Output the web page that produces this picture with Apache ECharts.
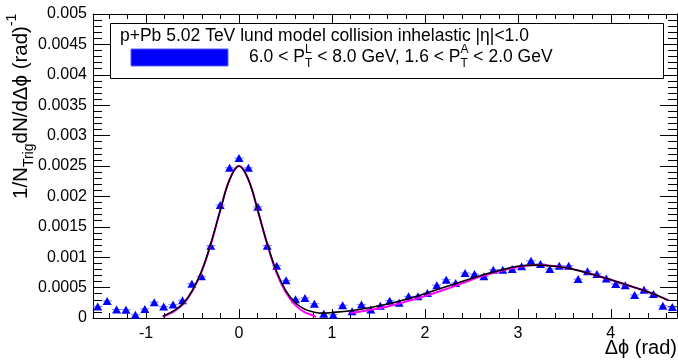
<!DOCTYPE html>
<html>
<head>
<meta charset="utf-8">
<script src="https://cdn.jsdelivr.net/npm/echarts@6/dist/echarts.min.js"></script>
<style>
  html, body { margin: 0; padding: 0; background: #ffffff; }
  #chart { width: 678px; height: 362px; }
</style>
</head>
<body>
<div id="chart"></div>
<script>
// Δφ bin centres (62 bins over [-π/2, 3π/2])
const dphi = [
  -1.5201, -1.4188, -1.3175, -1.2161, -1.1148, -1.0134, -0.9121, -0.8107, -0.7094, -0.6081,
  -0.5067, -0.4054, -0.3040, -0.2027, -0.1013, 0.0000, 0.1013, 0.2027, 0.3040, 0.4054,
  0.5067, 0.6081, 0.7094, 0.8107, 0.9121, 1.0134, 1.1148, 1.2161, 1.3175, 1.4188,
  1.5201, 1.6215, 1.7228, 1.8242, 1.9255, 2.0268, 2.1282, 2.2295, 2.3309, 2.4322,
  2.5335, 2.6349, 2.7362, 2.8376, 2.9389, 3.0403, 3.1416, 3.2429, 3.3443, 3.4456,
  3.5470, 3.6483, 3.7496, 3.8510, 3.9523, 4.0537, 4.1550, 4.2563, 4.3577, 4.4590,
  4.5604, 4.6617
];
// per-trigger pair yield, 1/N_trig dN/dΔφ
const pairYield = [
  0.00019, 0.00028, 0.00014, 0.000137, 0.000055, 0.00015, 0.00026, 0.00019, 0.00022, 0.00029,
  0.000565, 0.000685, 0.00119, 0.00186, 0.00247, 0.00263, 0.00247, 0.00183, 0.00119, 0.00086,
  0.00062, 0.00031, 0.00033, 0.000235, 0.00007, 0.000055, 0.00021, 0.00011, 0.00022, 0.00014,
  0.0002, 0.000285, 0.00025, 0.000356, 0.000356, 0.00041, 0.00054, 0.00063, 0.000576, 0.00074,
  0.000724, 0.000685, 0.000795, 0.000795, 0.000806, 0.00085, 0.00094, 0.00089, 0.000806, 0.00086,
  0.00086, 0.00064, 0.00077, 0.000724, 0.00065, 0.00056, 0.00054, 0.00038, 0.000466, 0.000395,
  0.0002, 0.00018
];
// full fit (near + away side)
const fitX = [-0.82, -0.75, -0.7, -0.6, -0.5, -0.4, -0.3, -0.2, -0.1, 0, 0.1, 0.2, 0.3, 0.4, 0.5, 0.6, 0.7, 0.8, 0.9,
  1.0, 1.2, 1.4, 1.6, 1.8, 2.0, 2.2, 2.4, 2.6, 2.8, 3.0, 3.2, 3.4, 3.6, 3.8, 4.0, 4.2, 4.4, 4.62];
const fitY = [0.00003, 0.00008, 0.00012, 0.00024, 0.00046, 0.00078, 0.00124, 0.00178, 0.00228, 0.0025,
  0.00228, 0.00178, 0.00124, 0.00078, 0.00046, 0.00026, 0.00015, 0.0001, 0.00008,
  0.00009, 0.00012, 0.00017, 0.00023, 0.00031, 0.0004, 0.0005, 0.0006, 0.0007, 0.00078, 0.00085,
  0.00087, 0.00085, 0.0008, 0.00072, 0.00063, 0.00053, 0.00043, 0.00029];
// near-side component
const nearX = [-0.82, -0.75, -0.7, -0.6, -0.5, -0.4, -0.3, -0.2, -0.1, 0, 0.1, 0.2, 0.3, 0.4, 0.5, 0.6, 0.7, 0.8, 0.83];
const nearY = [0.00002, 0.00007, 0.00011, 0.00023, 0.00045, 0.00077, 0.00123, 0.00178, 0.00228, 0.0025,
  0.00228, 0.00178, 0.00123, 0.00076, 0.00043, 0.00022, 0.0001, 0.00004, 0.00002];
// away-side component
const awayX = [1.2, 1.4, 1.6, 1.8, 2.0, 2.2, 2.4, 2.6, 2.8, 3.0, 3.2, 3.4, 3.6, 3.8, 4.0, 4.2, 4.4, 4.62];
const awayY = [0.00008, 0.00013, 0.00019, 0.00027, 0.00036, 0.00046, 0.00057, 0.00068, 0.00077, 0.00084,
  0.00087, 0.00085, 0.0008, 0.00072, 0.00063, 0.00053, 0.00043, 0.00029];

// axis ticks and labels
const xMajor = [-1, 0, 1, 2, 3, 4];
const xLabels = ['-1', '0', '1', '2', '3', '4'];
const xMinor = [-1.4, -1.2, -0.8, -0.6, -0.4, -0.2, 0.2, 0.4, 0.6, 0.8, 1.2, 1.4, 1.6, 1.8,
  2.2, 2.4, 2.6, 2.8, 3.2, 3.4, 3.6, 3.8, 4.2, 4.4, 4.6];
const yLabels = ['0', '0.0005', '0.001', '0.0015', '0.002', '0.0025', '0.003', '0.0035', '0.004', '0.0045', '0.005'];

const FONT = '"Liberation Sans", Arial, Helvetica, sans-serif';
const halfBin = Math.PI / 62;

const measure = document.createElement('canvas').getContext('2d');
function textWidth(str, size) {
  measure.font = size + 'px ' + FONT;
  return measure.measureText(str).width;
}
function txt(str, x, y, size, align) {
  return {
    type: 'text', x: x, y: y, silent: true, z: 11,
    style: { text: str, fontSize: size, fontFamily: FONT, fill: '#000', align: align || 'left', verticalAlign: 'middle' }
  };
}
// lay out a line with stacked super/subscripts
function layoutLine(parts, x0, y, size, small, supDy, subDy) {
  const out = [];
  let x = x0;
  parts.forEach(p => {
    if (typeof p === 'string') {
      out.push(txt(p, x, y, size));
      x += textWidth(p, size);
    } else {
      let w = 0;
      if (p.sup) { out.push(txt(p.sup, x, y + supDy, small)); w = Math.max(w, textWidth(p.sup, small)); }
      if (p.sub) { out.push(txt(p.sub, x, y + subDy, small)); w = Math.max(w, textWidth(p.sub, small)); }
      x += w;
    }
  });
  return out;
}

const legendLine2 = layoutLine(
  ['6.0 < P', { sup: 'L', sub: 'T' }, ' < 8.0 GeV, 1.6 < P', { sup: 'A', sub: 'T' }, ' < 2.0 GeV'],
  249, 57, 17.5, 12, -7, 7);

const yTitleParts = layoutLine(
  ['1/N', { sub: 'Trig' }, 'dN/d\u0394\u03d5 (rad)', { sup: '-1' }],
  0, 0, 20.5, 14, -9, 8);

const chart = echarts.init(document.getElementById('chart'), null, { renderer: 'canvas' });

const axisLineStyle = { color: '#000', width: 1 };

function xAxisDef(position, ticks, len, withLine, withLabels) {
  return {
    type: 'value', position: position,
    min: -Math.PI / 2, max: 3 * Math.PI / 2,
    axisLine: { show: withLine, onZero: false, lineStyle: axisLineStyle },
    axisTick: { show: true, inside: true, length: len, customValues: ticks, lineStyle: axisLineStyle },
    axisLabel: withLabels ? {
      show: true, customValues: xMajor, margin: 8, fontSize: 16, fontFamily: FONT, color: '#000',
      formatter: v => xLabels[xMajor.findIndex(m => Math.abs(m - v) < 1e-6)]
    } : { show: false },
    splitLine: { show: false }
  };
}
function yAxisDef(position, withLabels) {
  return {
    type: 'value', position: position, min: 0, max: 0.005, interval: 0.0005,
    axisLine: { show: true, onZero: false, lineStyle: axisLineStyle },
    axisTick: { show: true, inside: true, length: 17, lineStyle: axisLineStyle },
    minorTick: { show: true, splitNumber: 5, length: 9, lineStyle: axisLineStyle },
    axisLabel: withLabels ? {
      show: true, margin: 6, fontSize: 16, fontFamily: FONT, color: '#000',
      formatter: v => yLabels[Math.round(v / 0.0005)]
    } : { show: false },
    splitLine: { show: false }, minorSplitLine: { show: false }
  };
}

chart.setOption({
  animation: false,
  backgroundColor: '#ffffff',
  grid: { left: 93, right: 1, top: 14, bottom: 44, containLabel: false },
  xAxis: [
    xAxisDef('bottom', xMajor, 9, true, true),
    xAxisDef('bottom', xMinor, 5, false, false),
    xAxisDef('top', xMajor, 9, true, false),
    xAxisDef('top', xMinor, 5, false, false)
  ],
  yAxis: [yAxisDef('left', true), yAxisDef('right', false)],
  series: [
    {
      type: 'custom', xAxisIndex: 0, yAxisIndex: 0, silent: true, z: 2,
      data: dphi.map((x, i) => [x, pairYield[i]]),
      renderItem: (params, api) => {
        const x = api.value(0), y = api.value(1);
        const a = api.coord([x - halfBin, y]);
        const b = api.coord([x + halfBin, y]);
        return { type: 'line', shape: { x1: a[0], y1: a[1], x2: b[0], y2: b[1] },
          style: { stroke: '#8080ff', lineWidth: 1 } };
      }
    },
    {
      type: 'scatter', xAxisIndex: 0, yAxisIndex: 0, z: 3, silent: true,
      symbol: 'triangle', symbolSize: [9, 8],
      itemStyle: { color: '#0000ff', opacity: 1 },
      data: dphi.map((x, i) => [x, pairYield[i]])
    },
    {
      type: 'line', xAxisIndex: 0, yAxisIndex: 0, z: 4, silent: true, smooth: 0.4,
      showSymbol: false, lineStyle: { color: '#ff00ff', width: 2 },
      data: nearX.map((x, i) => [x, nearY[i]])
    },
    {
      type: 'line', xAxisIndex: 0, yAxisIndex: 0, z: 4, silent: true, smooth: 0.4,
      showSymbol: false, lineStyle: { color: '#ff00ff', width: 2 },
      data: awayX.map((x, i) => [x, awayY[i]])
    },
    {
      type: 'line', xAxisIndex: 0, yAxisIndex: 0, z: 5, silent: true, smooth: 0.4,
      showSymbol: false, lineStyle: { color: '#000000', width: 1.6 },
      data: fitX.map((x, i) => [x, fitY[i]])
    }
  ],
  graphic: [
    {
      type: 'rect', silent: true, z: 10,
      shape: { x: 110.5, y: 23.5, width: 553, height: 55 },
      style: { fill: '#ffffff', stroke: '#000000', lineWidth: 1 }
    },
    {
      type: 'rect', silent: true, z: 11,
      shape: { x: 131, y: 49, width: 97, height: 17 },
      style: { fill: '#0000ff', stroke: '#5a5aff', lineWidth: 1 }
    },
    txt('p+Pb 5.02 TeV lund model collision inhelastic |\u03b7|<1.0', 120, 36, 17.5),
    ...legendLine2,
    {
      type: 'group', x: 21, y: 199, rotation: Math.PI / 2, silent: true,
      children: yTitleParts
    },
    txt('\u0394\u03d5 (rad)', 677, 348, 20, 'right')
  ]
});
</script>
</body>
</html>
